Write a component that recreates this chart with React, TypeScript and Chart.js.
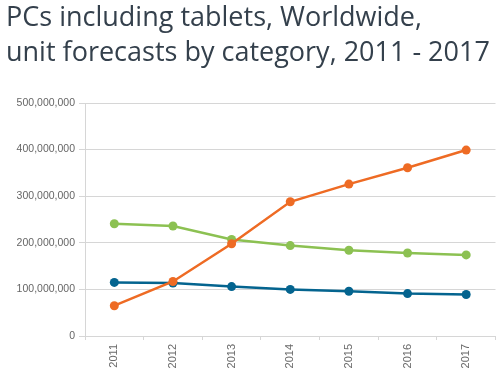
import React, { useEffect, useRef } from "react";
import { Chart, registerables } from "chart.js";

Chart.register(...registerables);

const years = ["2011", "2012", "2013", "2014", "2015", "2016", "2017"];
const orangeSeries = [65000000, 117000000, 198000000, 288000000, 326000000, 361000000, 399000000];
const greenSeries = [241000000, 236000000, 207000000, 194000000, 184000000, 178000000, 174000000];
const blueSeries = [115000000, 113500000, 106000000, 100000000, 96000000, 91000000, 89000000];
const yTicks = [0, 100000000, 200000000, 300000000, 400000000, 500000000];
const titleLines = ["PCs including tablets, Worldwide,", "unit forecasts by category, 2011 - 2017"];

const ORANGE = "#ee6b24";
const GREEN = "#8cc152";
const BLUE = "#04648f";
const GRID = "#d6d6d6";

export default function App() {
  const ref = useRef<HTMLCanvasElement | null>(null);

  useEffect(() => {
    if (!ref.current) return;
    const mk = (data: number[], color: string) => ({
      data,
      borderColor: color,
      backgroundColor: color,
      pointBackgroundColor: color,
      pointBorderColor: color,
      borderWidth: 2.5,
      pointRadius: 4.5,
      pointBorderWidth: 0,
      tension: 0,
      fill: false,
    });
    const chart = new Chart(ref.current, {
      type: "line",
      data: {
        labels: years,
        datasets: [mk(orangeSeries, ORANGE), mk(greenSeries, GREEN), mk(blueSeries, BLUE)],
      },
      options: {
        animation: false,
        responsive: false,
        maintainAspectRatio: false,
        layout: { padding: { top: 103, left: 0, right: 0, bottom: 0 } },
        plugins: { legend: { display: false }, tooltip: { enabled: false }, title: { display: false } },
        scales: {
          x: {
            offset: true,
            grid: { drawOnChartArea: false, drawTicks: true, tickLength: 4, color: GRID, offset: true },
            border: { color: GRID, width: 1 },
            ticks: {
              minRotation: 90,
              maxRotation: 90,
              autoSkip: false,
              padding: 4,
              color: "#6a6a6a",
              font: { family: "'Liberation Sans', Arial, sans-serif", size: 11 },
            },
            afterFit: (s: any) => {
              s.height = 39;
            },
          },
          y: {
            min: 0,
            max: 500000000,
            afterBuildTicks: (s: any) => {
              s.ticks = yTicks.map((v) => ({ value: v }));
            },
            grid: { color: GRID, tickLength: 6, drawTicks: true },
            border: { color: GRID, width: 1 },
            ticks: {
              padding: 4,
              color: "#666",
              font: { family: "'Liberation Sans', Arial, sans-serif", size: 10.5 },
              callback: (v: any) => Number(v).toLocaleString("en-US"),
            },
            afterFit: (s: any) => {
              s.width = 85;
            },
          },
        },
      },
    });
    return () => chart.destroy();
  }, []);

  return (
    <div style={{ position: "fixed", left: 0, top: 0, width: 500, height: 375, background: "#fff" }}>
      <canvas ref={ref} width={500} height={375} style={{ position: "absolute", left: 0, top: 0, width: 500, height: 375 }} />
      {titleLines.map((t, i) => (
        <div
          key={i}
          style={{
            position: "absolute",
            left: 6,
            top: i === 0 ? -1 : 34,
            fontFamily: "'Open Sans', sans-serif",
            fontSize: 27,
            lineHeight: "34px",
            color: "#34404c",
            whiteSpace: "nowrap",
          }}
        >
          {t}
        </div>
      ))}
    </div>
  );
}
